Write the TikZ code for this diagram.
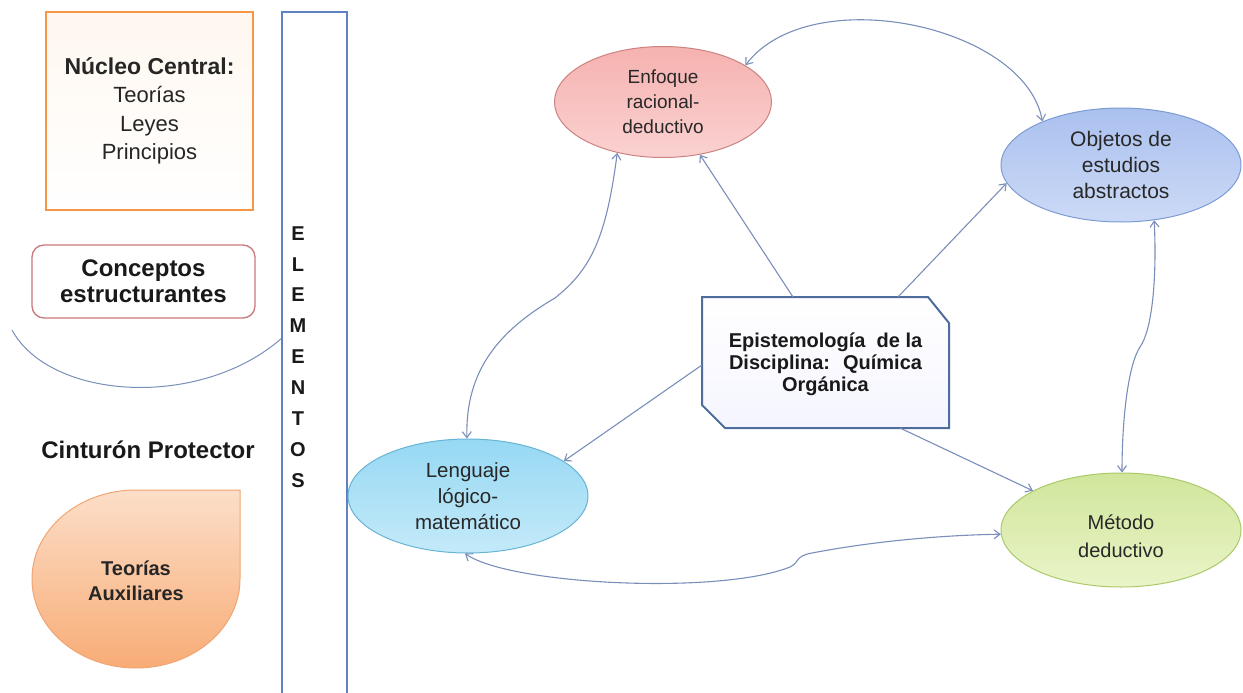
\documentclass[tikz,border=0pt]{standalone}
\usepackage{fontspec}
\setmainfont{Liberation Sans}
\usetikzlibrary{shapes.geometric,arrows.meta}
\definecolor{conncol}{RGB}{122,142,186}
\definecolor{txtcol}{RGB}{40,40,40}
\definecolor{orangeb}{RGB}{247,150,70}
\definecolor{redb}{RGB}{201,120,122}
\definecolor{blueb}{RGB}{96,130,192}
\definecolor{epib}{RGB}{78,108,156}
\begin{document}
\begin{tikzpicture}[x=1pt,y=-1pt,
  conn/.style={draw=conncol, line width=1.1pt},
  tipend/.style={-{Straight Barb[length=6pt,width=9pt]}},
  tipboth/.style={{Straight Barb[length=6pt,width=9pt]}-{Straight Barb[length=6pt,width=9pt]}},
  ell/.style={ellipse, minimum width=240pt, minimum height=114pt, inner sep=0pt,
    align=center, text=txtcol, line width=1pt},
  boldlbl/.style={font=\bfseries\fontsize{24}{26}\selectfont, text=black!90, align=center, inner sep=0pt}
]
\useasboundingbox (0,0) rectangle (1243,693);

% left column
\node[draw=orangeb, line width=1.4pt, top color=orange!6, bottom color=white,
  minimum width=207pt, minimum height=198pt, align=center, inner sep=0pt,
  font=\fontsize{22}{28.5}\selectfont, text=black!85] (nuc) at (149.5,111)
  {{\bfseries\fontsize{23}{28.5}\selectfont Núcleo Central:}\\Teorías\\Leyes\\Principios};

\node[draw=redb, line width=1.3pt, rounded corners=12pt, fill=white,
  minimum width=223pt, minimum height=73pt, boldlbl] (con) at (143.5,281.5)
  {Conceptos\\estructurantes};

\draw[draw=conncol, line width=1pt] (12,330) .. controls (50,400) and (200,410) .. (282,338);

\node[boldlbl] (cin) at (148,450) {Cinturón Protector};

\draw[draw={rgb,255:red,240;green,165;blue,115}, line width=1pt,
  top color={rgb,255:red,252;green,222;blue,200}, bottom color={rgb,255:red,248;green,172;blue,118}]
  (240,490) -- (240,579) .. controls (240,628.2) and (193.4,668) .. (136,668)
  .. controls (78.6,668) and (32,628.2) .. (32,579)
  .. controls (32,529.8) and (78.6,490) .. (136,490) -- cycle;
\node[font=\bfseries\fontsize{20}{25}\selectfont, text=black!85, align=center, inner sep=0pt]
  (aux) at (136,581) {Teorías\\Auxiliares};

% ELEMENTOS
\node[draw=blueb, line width=1.4pt, fill=white, minimum width=65pt, minimum height=700pt,
  inner sep=0pt] (elem) at (314.5,362) {};
\node[font=\bfseries\fontsize{20}{30.9}\selectfont, text=black!90, align=center, inner sep=0pt]
  (elemtxt) at (298,357) {E\\L\\E\\M\\E\\N\\T\\O\\S};

% central box
\draw[draw=epib, line width=2pt, top color=white, bottom color=blue!4]
  (702,297) -- (928,297) -- (949,323) -- (949,428) -- (725,428) -- (702,405) -- cycle;
\node[inner sep=0pt, align=center,
  font=\bfseries\fontsize{20}{22}\selectfont, text=black!90] (epi) at (825.5,364)
  {Epistemología~ de la\\Disciplina:~ Química\\Orgánica};
\coordinate (e1) at (793,297);
\coordinate (e2) at (898,297);
\coordinate (e3) at (702,365);
\coordinate (e4) at (900,428);

% ellipses
\node[ell, minimum width=217pt, minimum height=111pt, draw={rgb,255:red,205;green,130;blue,130},
  top color={rgb,255:red,245;green,178;blue,176},
  bottom color={rgb,255:red,250;green,210;blue,209},
  font=\fontsize{19}{25}\selectfont] (enf) at (663,102) {Enfoque\\racional-\\deductivo};
\node[ell, draw={rgb,255:red,125;green,155;blue,211}, top color={rgb,255:red,170;green,192;blue,238},
  bottom color={rgb,255:red,204;green,218;blue,246},
  font=\fontsize{21}{26}\selectfont] (obj) at (1121,165) {Objetos de\\estudios\\abstractos};
\node[ell, draw={rgb,255:red,103;green,180;blue,213}, top color={rgb,255:red,150;green,216;blue,243},
  bottom color={rgb,255:red,196;green,234;blue,249},
  font=\fontsize{20.5}{26}\selectfont] (len) at (468,496) {Lenguaje\\lógico-\\matemático};
\node[ell, draw={rgb,255:red,169;green,201;blue,107}, top color={rgb,255:red,208;green,230;blue,155},
  bottom color={rgb,255:red,234;green,244;blue,200},
  font=\fontsize{20}{28}\selectfont] (met) at (1121,530) {\mbox{}\\Método\\deductivo};

% straight connectors
\draw[conn, tipend] (e1) -- (enf.-55);
\draw[conn, tipend] (e2) -- (obj.189);
\draw[conn, tipend] (e3) -- (len.20);
\draw[conn, tipend] (e4) -- (met.156);

% curved connectors
\draw[conn, tipboth] (enf.24) .. controls (810,-20) and (1025,25) .. (obj.151);
\draw[conn, tipboth] (enf.-132) .. controls (606,240) and (590,270) .. (555,298)
  .. controls (500,330) and (465,370) .. (len.91);
\draw[conn, tipboth] (obj.-59) .. controls (1157,280) and (1152,330) .. (1140,347)
  .. controls (1128,365) and (1122,420) .. (met.89);
\draw[conn, tipboth] (len.-93) .. controls (510,585) and (720,595) .. (790,567)
  .. controls (800,562) and (795,556) .. (812,553)
  .. controls (880,540) and (950,535) .. (met.182);
\end{tikzpicture}
\end{document}
